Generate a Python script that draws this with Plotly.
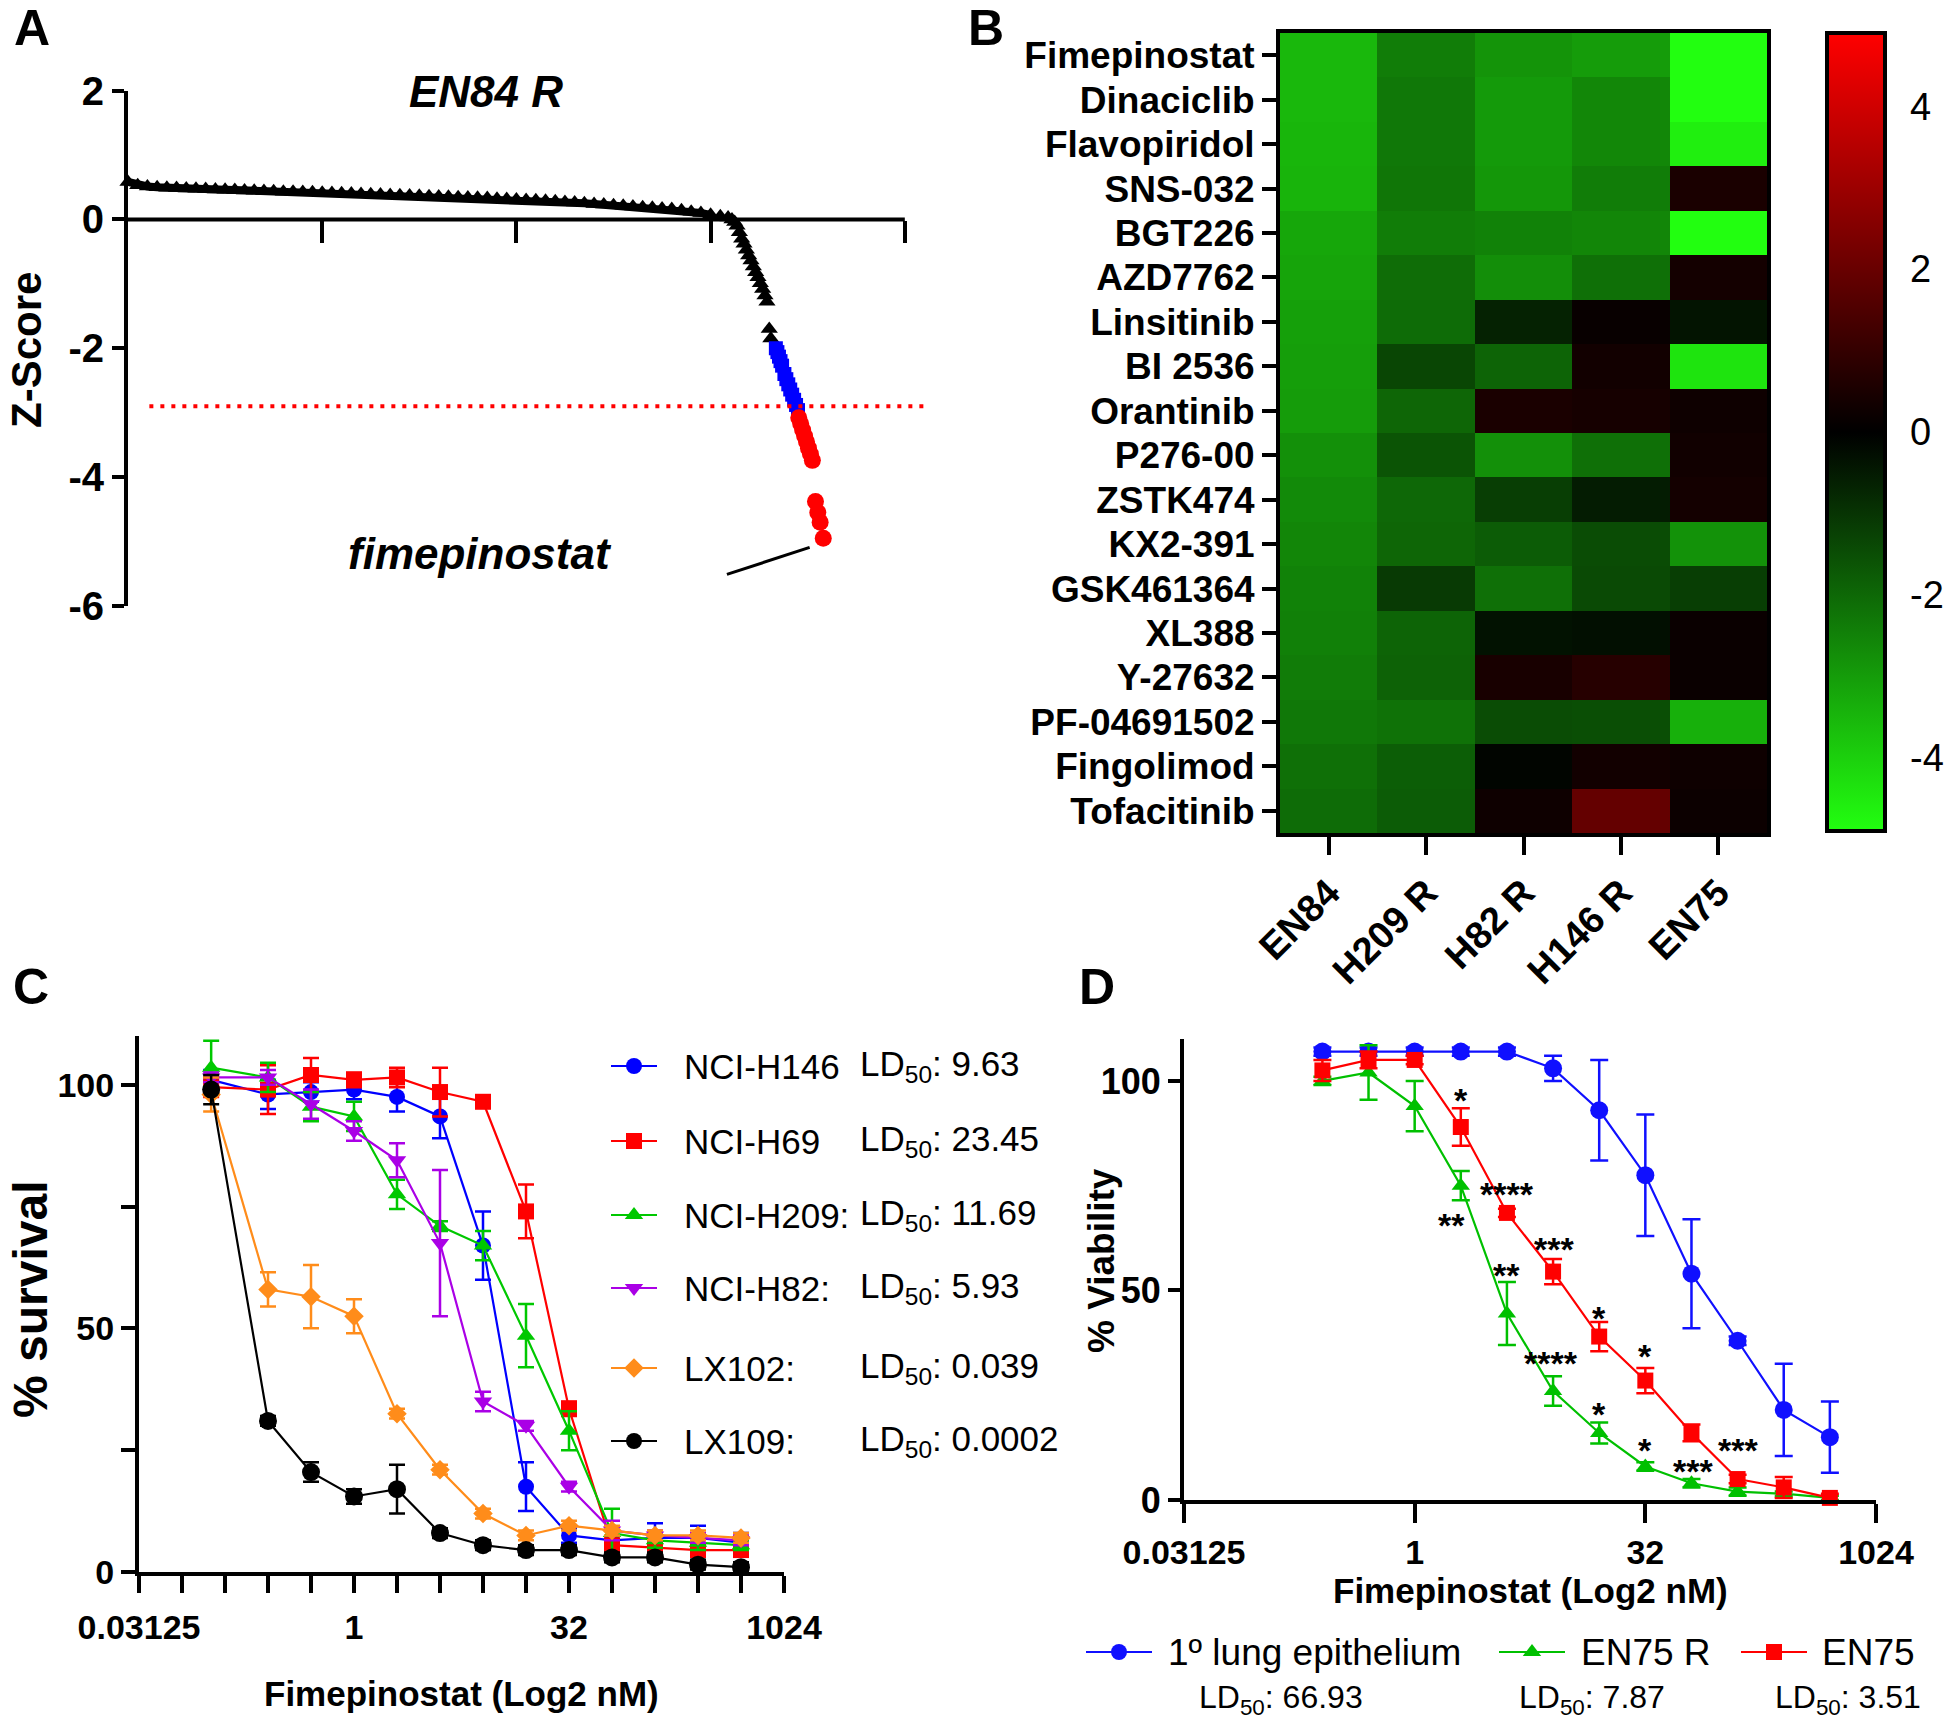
import math
import plotly.graph_objects as go

W, H = 1944, 1733
def X(p): return p / W
def Y(p): return 1 - p / H

SANS = "Liberation Sans, Arial, sans-serif"

# ---------------- Panel A data ----------------
a_flat_rank = list(range(0, 1525, 25))
a_flat_z = [0.58, 0.53, 0.51, 0.50, 0.49, 0.485, 0.48, 0.475, 0.47, 0.465, 0.46, 0.455, 0.45,
            0.445, 0.44, 0.435, 0.43, 0.43, 0.425, 0.42, 0.415, 0.41, 0.405, 0.40, 0.395, 0.39,
            0.385, 0.38, 0.375, 0.37, 0.365, 0.36, 0.355, 0.35, 0.345, 0.34, 0.335, 0.33, 0.32,
            0.315, 0.31, 0.30, 0.295, 0.29, 0.28, 0.27, 0.26, 0.25, 0.24, 0.23, 0.22, 0.21, 0.20,
            0.19, 0.18, 0.17, 0.16, 0.14, 0.12, 0.10, 0.07]
a_steep_rank = [1525, 1545, 1555, 1562, 1568, 1574, 1580, 1586, 1592, 1598, 1604, 1610, 1616,
                1622, 1628, 1634, 1640, 1645, 1651, 1655]
a_steep_z = [0.05, 0.03, 0.0, -0.04, -0.1, -0.2, -0.3, -0.38, -0.47, -0.56, -0.64, -0.73, -0.82,
             -0.9, -0.99, -1.08, -1.18, -1.28, -1.7, -1.85]
a_blue_rank = [1668, 1672, 1676, 1680, 1684, 1690, 1695, 1700, 1705, 1710, 1715, 1720, 1725]
a_blue_z = [-2.0, -2.06, -2.13, -2.2, -2.27, -2.4, -2.48, -2.56, -2.64, -2.72, -2.8, -2.88, -2.96]
a_red_rank = [1727, 1732, 1737, 1742, 1747, 1752, 1757, 1762, 1770, 1776, 1782, 1790]
a_red_z = [-3.08, -3.17, -3.27, -3.36, -3.45, -3.55, -3.64, -3.74, -4.38, -4.55, -4.7, -4.95]
a_cutoff = -2.9
a_yticks = [-6, -4, -2, 0, 2]
a_xticks = [500, 1000, 1500, 2000]

# ---------------- Panel B data ----------------
b_rows = ["Fimepinostat", "Dinaciclib", "Flavopiridol", "SNS-032", "BGT226", "AZD7762",
          "Linsitinib", "BI 2536", "Orantinib", "P276-00", "ZSTK474", "KX2-391", "GSK461364",
          "XL388", "Y-27632", "PF-04691502", "Fingolimod", "Tofacitinib"]
b_cols = ["EN84", "H209 R", "H82 R", "H146 R", "EN75"]
b_en84 = [-3.54, -3.54, -3.5, -3.45, -3.2, -3.15, -3.07, -3.03, -3.0, -2.77, -2.65, -2.58,
          -2.5, -2.46, -2.38, -2.3, -2.15, -2.08]
b_h209r = [-2.4, -2.3, -2.3, -2.27, -2.4, -2.1, -2.08, -1.35, -1.96, -1.61, -2.0, -1.96,
           -1.11, -1.92, -1.88, -2.19, -1.8, -1.77]
b_h82r = [-2.84, -2.95, -2.95, -2.9, -2.5, -2.73, -0.65, -1.92, 0.5, -2.77, -1.19, -1.77,
          -2.15, -0.35, 0.46, -1.46, -0.1, 0.27]
b_h146r = [-3.0, -2.6, -2.6, -2.4, -2.57, -2.15, 0.15, 0.35, 0.42, -2.15, -0.54, -1.46,
           -1.42, -0.29, 0.73, -1.5, 0.35, 1.92]
b_en75 = [-4.9, -4.9, -4.6, 0.5, -4.9, 0.38, -0.38, -4.38, 0.27, 0.33, 0.38, -2.8,
          -1.19, 0.19, 0.19, -3.38, 0.27, 0.23]
b_cbar_ticks = [-4, -2, 0, 2, 4]
b_zlim = 4.9

# ---------------- Panel C data ----------------
c_dose = [0.1, 0.25, 0.5, 1, 2, 4, 8, 16, 32, 64, 128, 256, 512]
c_h146 = [101, 98, 98.5, 99, 97.5, 93.5, 67, 17.5, 7.5, 6.5, 7, 7, 6]
c_h146_err = [2, 3, 2, 2, 3, 4.5, 7, 5, 1.5, 2, 3, 2.5, 2]
c_h69 = [99.5, 99, 102, 101, 101.5, 98.5, 96.5, 74, 33.5, 5.5, 5, 4.5, 4.5]
c_h69_err = [2, 5, 3.5, 1.5, 2, 5, 1, 5.5, 1.5, 1, 1, 1, 1]
c_h209 = [103.5, 101.5, 95.5, 93.5, 77.5, 71, 67, 48.5, 29, 8, 6.5, 6, 5.5]
c_h209_err = [5.5, 3, 3, 3, 3, 1, 3, 6.5, 4, 5, 1.5, 1.5, 1]
c_h82 = [101.5, 101.5, 96, 90.5, 84.5, 67.5, 35, 30, 17.5, 8.5, 7.5, 7, 6.5]
c_h82_err = [1, 1.5, 3, 2, 3.5, 15, 2, 1, 1, 2, 1, 1, 1]
c_lx102 = [98, 58, 56.5, 52.5, 32.5, 21, 12, 7.5, 9.5, 8.5, 7.5, 7.5, 7]
c_lx102_err = [3.5, 3.5, 6.5, 3.5, 1, 1, 1, 1, 1, 1, 1, 1, 1]
c_lx109 = [99, 31, 20.5, 15.5, 17, 8, 5.5, 4.5, 4.5, 3, 3, 1.5, 1]
c_lx109_err = [3, 1, 2, 1.5, 5, 1, 1, 1, 1, 1, 1, 1, 1]
c_names = ["NCI-H146", "NCI-H69", "NCI-H209:", "NCI-H82:", "LX102:", "LX109:"]
c_ld50 = ["9.63", "23.45", "11.69", "5.93", "0.039", "0.0002"]
c_xtick_exp = list(range(-5, 11))
c_xtick_labels = {-5: "0.03125", 0: "1", 5: "32", 10: "1024"}
c_yticks = [0, 25, 50, 75, 100]
c_yticklabels = ["0", "", "50", "", "100"]

# ---------------- Panel D data ----------------
d_dose = [0.25, 0.5, 1, 2, 4, 8, 16, 32, 64, 128, 256, 512]
d_lung = [107, 107, 107, 107, 107, 103, 93, 77.5, 54, 38, 21.5, 15]
d_lung_err = [1, 1, 1, 1, 1, 3, 12, 14.5, 13, 1, 11, 8.5]
d_en75r = [100, 102, 94, 75, 44.5, 26, 16, 8, 4, 2, 1.5, 0.5]
d_en75r_err = [1, 6.5, 6, 3.5, 7.5, 3.5, 2.5, 1, 1, 1, 0.5, 0.5]
d_en75 = [102.5, 105, 105, 89, 68.5, 54.5, 39, 28.5, 16, 5, 3, 0.5]
d_en75_err = [2.5, 2, 1, 4.5, 1, 3, 3.5, 3, 2, 1, 2.5, 1]
d_names = ["1º lung epithelium", "EN75 R", "EN75"]
d_ld50 = ["66.93", "7.87", "3.51"]
d_star_text = ["*", "****", "**", "***", "**", "*", "****", "*", "*", "*", "***", "***"]
d_star_x = [2, 4, 1.75, 8.1, 4, 16, 7.8, 32, 16, 32, 128, 65]
d_star_y = [97.4, 75.1, 67.7, 61.8, 55.7, 45.4, 34.6, 36.3, 22.6, 14.0, 14.0, 8.9]
d_xticks = [0.03125, 1, 32, 1024]
d_xticklabels = ["0.03125", "1", "32", "1024"]
d_yticks = [0, 50, 100]

fig = go.Figure()

# ---- Panel A traces ----
fig.add_trace(go.Scatter(x=a_flat_rank, y=a_flat_z, mode="lines+markers",
                         line=dict(color="black", width=8),
                         marker=dict(symbol="triangle-up", size=15, color="black"),
                         xaxis="x", yaxis="y", showlegend=False, cliponaxis=False))
fig.add_trace(go.Scatter(x=a_steep_rank, y=a_steep_z, mode="markers",
                         marker=dict(symbol="triangle-up", size=15, color="black"),
                         xaxis="x", yaxis="y", showlegend=False, cliponaxis=False))
fig.add_trace(go.Scatter(x=a_blue_rank, y=a_blue_z, mode="markers",
                         marker=dict(symbol="square", size=14, color="#0000ff"),
                         xaxis="x", yaxis="y", showlegend=False, cliponaxis=False))
fig.add_trace(go.Scatter(x=a_red_rank, y=a_red_z, mode="markers",
                         marker=dict(symbol="circle", size=17, color="#ff0000"),
                         xaxis="x", yaxis="y", showlegend=False, cliponaxis=False))

# ---- Panel B heatmap ----
b_z = [list(r) for r in zip(b_en84, b_h209r, b_h82r, b_h146r, b_en75)]
CB_TOP, CB_BOT, CB_L, CB_R = 33, 831, 1827, 1885
cb_mid = (CB_TOP + CB_BOT) / 2
fig.add_trace(go.Heatmap(
    z=b_z, x=b_cols, y=b_rows, xaxis="x2", yaxis="y2", zmin=-b_zlim, zmax=b_zlim,
    colorscale=[[0, "#22ff10"], [0.5, "#000000"], [1, "#ff0000"]],
    colorbar=dict(x=X(CB_L), xanchor="left", y=Y(cb_mid), yanchor="middle",
                  thickness=CB_R - CB_L, thicknessmode="pixels", len=CB_BOT - CB_TOP,
                  lenmode="pixels", xpad=0, ypad=0, outlinewidth=4, outlinecolor="black",
                  tickvals=b_cbar_ticks, ticktext=[str(v) for v in b_cbar_ticks],
                  ticks="outside", ticklen=16, tickwidth=1, tickcolor="rgba(0,0,0,0)",
                  tickfont=dict(family=SANS, size=38, color="black")),
    showscale=True))

# ---- Panel C traces ----
c_series = [(c_h146, c_h146_err, "#0000ff", "circle", 16),
            (c_h69, c_h69_err, "#ff0000", "square", 16),
            (c_h209, c_h209_err, "#00c800", "triangle-up", 16),
            (c_h82, c_h82_err, "#aa00e6", "triangle-down", 16),
            (c_lx102, c_lx102_err, "#ff8c1a", "diamond", 15),
            (c_lx109, c_lx109_err, "#000000", "circle", 18)]
c_rows_y = [1066, 1141, 1215, 1288, 1368, 1441]
for i, (vals, err, col, sym, sz) in enumerate(c_series):
    lg = "legend" if i == 0 else "legend%d" % (i + 1)
    fig.add_trace(go.Scatter(
        x=c_dose, y=vals, mode="lines+markers", xaxis="x3", yaxis="y3",
        line=dict(color=col, width=2.2), marker=dict(symbol=sym, size=sz, color=col),
        error_y=dict(type="data", array=err, color=col, thickness=2.5, width=8),
        name=" ", legend=lg, showlegend=True, cliponaxis=False))

# ---- Panel D traces ----
d_series = [(d_lung, d_lung_err, "#1010ff", "circle", 18),
            (d_en75r, d_en75r_err, "#00c000", "triangle-up", 16),
            (d_en75, d_en75_err, "#ff0000", "square", 16)]
for i, (vals, err, col, sym, sz) in enumerate(d_series):
    fig.add_trace(go.Scatter(
        x=d_dose, y=vals, mode="lines+markers", xaxis="x4", yaxis="y4",
        line=dict(color=col, width=2.2), marker=dict(symbol=sym, size=sz, color=col),
        error_y=dict(type="data", array=err, color=col, thickness=2.5, width=9),
        name=" ", legend="legend%d" % (7 + i), showlegend=True, cliponaxis=False))

axis_common = dict(showgrid=False, zeroline=False, color="black", tickcolor="black",
                   automargin=False)

def bold(size):
    return dict(family=SANS, size=size, weight="bold", color="black")

layout = dict(
    width=W, height=H, margin=dict(l=0, r=0, t=0, b=0, autoexpand=False),
    paper_bgcolor="white", plot_bgcolor="rgba(0,0,0,0)",
    # Panel A
    xaxis=dict(domain=[X(128), X(932)], range=[0, 2070], anchor="free", position=Y(219.5),
               showline=False, ticks="outside", tickvals=a_xticks, ticklen=22, tickwidth=4,
               showticklabels=False, **axis_common),
    yaxis=dict(domain=[Y(606), Y(90.5)], range=[-6, 2], anchor="x", showline=True, linewidth=4,
               linecolor="black", ticks="outside", ticklen=12, tickwidth=4, tickvals=a_yticks,
               ticktext=[str(v) for v in a_yticks], tickfont=bold(40), **axis_common),
    # Panel B
    xaxis2=dict(domain=[X(1280), X(1767)], anchor="y2", showline=True, mirror=True, linewidth=4,
                linecolor="black", ticks="outside", ticklen=18, tickwidth=4, tickangle=-45,
                tickmode="array", tickvals=b_cols, ticktext=b_cols, tickfont=bold(38),
                **axis_common),
    yaxis2=dict(domain=[Y(833), Y(33)], anchor="x2", autorange="reversed", showline=True,
                mirror=True, linewidth=4, linecolor="black", ticks="outside", ticklen=14,
                tickwidth=4, tickmode="array", tickvals=b_rows, ticktext=b_rows,
                tickfont=bold(37), **axis_common),
    # Panel C
    xaxis3=dict(domain=[X(139), X(784)], anchor="y3", type="log",
                range=[math.log10(0.03125), math.log10(1024)], showline=True, linewidth=4,
                linecolor="black", ticks="outside", ticklen=17, tickwidth=4,
                tickvals=[2 ** k for k in c_xtick_exp],
                ticktext=[c_xtick_labels.get(k, "") for k in c_xtick_exp],
                ticklabelstandoff=5, tickfont=bold(34), **axis_common),
    yaxis3=dict(domain=[Y(1572), Y(1036)], anchor="x3", range=[0, 110], showline=True,
                linewidth=4, linecolor="black", ticks="outside", ticklen=14, tickwidth=4,
                tickvals=c_yticks, ticktext=c_yticklabels, tickfont=bold(34), **axis_common),
    # Panel D
    xaxis4=dict(domain=[X(1184), X(1876)], anchor="y4", type="log",
                range=[math.log10(0.03125), math.log10(1024)], showline=True, linewidth=4,
                linecolor="black", ticks="outside", ticklen=19, tickwidth=4, tickvals=d_xticks,
                ticktext=d_xticklabels, tickfont=bold(34), **axis_common),
    yaxis4=dict(domain=[Y(1500), Y(1039)], anchor="x4", range=[0, 110], showline=True,
                linewidth=4, linecolor="black", ticks="outside", ticklen=12, tickwidth=4,
                tickvals=d_yticks, ticktext=[str(v) for v in d_yticks], tickfont=bold(36),
                **axis_common),
)

legend_style = dict(bgcolor="rgba(0,0,0,0)", borderwidth=0, xanchor="left", yanchor="middle",
                    font=dict(family=SANS, size=30, color="black"))
for i, yy in enumerate(c_rows_y):
    key = "legend" if i == 0 else "legend%d" % (i + 1)
    layout[key] = dict(x=X(606), y=Y(yy), itemwidth=46, **legend_style)
d_leg_x = [1081, 1494, 1736]
for i, xx in enumerate(d_leg_x):
    layout["legend%d" % (7 + i)] = dict(x=X(xx), y=Y(1652), itemwidth=66, **legend_style)

fig.update_layout(**layout)

ann = []
def text(x, y, s, size, bold_=True, italic=False, angle=0, xanchor="center"):
    t = s
    if italic:
        t = "<i>" + t + "</i>"
    if bold_:
        t = "<b>" + t + "</b>"
    ann.append(dict(x=X(x), y=Y(y), xref="paper", yref="paper", text=t, showarrow=False,
                    textangle=angle, xanchor=xanchor, yanchor="middle",
                    font=dict(family=SANS, size=size, color="black")))

# panel letters
text(32, 28, "A", 50)
text(986, 28, "B", 50)
text(31, 987, "C", 50)
text(1097, 987, "D", 50)
# panel A texts
text(486, 91, "EN84 R", 44, italic=True)
text(480, 554, "fimepinostat", 44, italic=True)
text(26, 350, "Z-Score", 42, angle=-90)
# panel C texts
text(30, 1300, "% survival", 48, angle=-90)
text(461, 1693, "Fimepinostat (Log2 nM)", 35)
for name, ld, yy in zip(c_names, c_ld50, c_rows_y):
    text(682, yy, name, 35, bold_=False, xanchor="left")
    text(858, yy, "LD<sub>50</sub>: " + ld, 35, bold_=False, xanchor="left")
# panel D texts
text(1101, 1261, "% Viability", 37, angle=-90)
text(1530, 1590, "Fimepinostat (Log2 nM)", 35)
d_name_x = [1166, 1579, 1820]
d_ld_x = [1197, 1517, 1773]
for name, ld, xn, xl in zip(d_names, d_ld50, d_name_x, d_ld_x):
    text(xn, 1652, name, 37, bold_=False, xanchor="left")
    text(xl, 1699, "LD<sub>50</sub>: " + ld, 32, bold_=False, xanchor="left")
for s, sx, sy in zip(d_star_text, d_star_x, d_star_y):
    ann.append(dict(x=math.log10(sx), y=sy - 2, xref="x4", yref="y4", text="<b>" + s + "</b>",
                    showarrow=False, xanchor="center", yanchor="middle",
                    font=dict(family=SANS, size=34, color="black")))

fig.update_layout(annotations=ann)

shapes = [
    dict(type="line", xref="x", yref="y", x0=0, x1=2000, y0=0, y1=0,
         line=dict(color="black", width=4)),
    dict(type="line", xref="x", yref="y", x0=55, x1=2063, y0=a_cutoff, y1=a_cutoff,
         line=dict(color="#ff0000", width=4, dash="4px,7px")),
    dict(type="line", xref="x", yref="y", x0=1755, x1=1542, y0=-5.09, y1=-5.51,
         line=dict(color="black", width=3)),
]
# inner tick marks on both edges of the colour bar
for v in b_cbar_ticks:
    ty = cb_mid - v / b_zlim * (CB_BOT - CB_TOP) / 2
    for x0, x1 in ((CB_L, CB_L + 14), (CB_R - 14, CB_R)):
        shapes.append(dict(type="line", xref="paper", yref="paper", x0=X(x0), x1=X(x1),
                           y0=Y(ty), y1=Y(ty), line=dict(color="black", width=4)))
fig.update_layout(shapes=shapes)

fig.write_html("out.html", config={"displayModeBar": False},
               post_script="document.body.style.margin='0px';document.body.style.padding='0px';")
